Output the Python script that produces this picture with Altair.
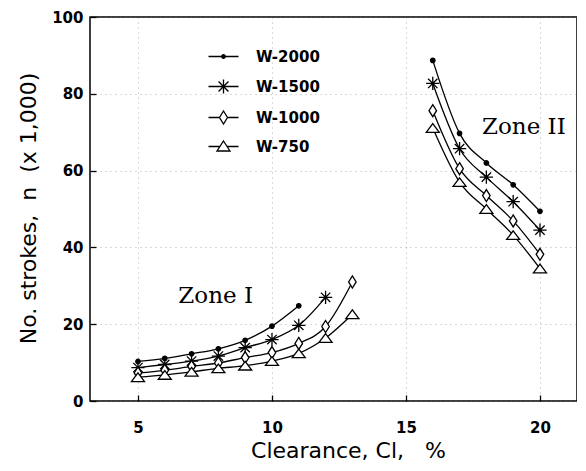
import altair as alt
import pandas as pd

# ---- data ----
series = ["W-2000", "W-1500", "W-1000", "W-750"]

clear_z1 = [5, 6, 7, 8, 9, 10, 11, 12, 13]
w2000_z1 = [10.3, 11.1, 12.3, 13.6, 15.8, 19.5, 24.8]
w1500_z1 = [8.7, 9.5, 10.4, 11.7, 13.9, 16.0, 19.7, 27.0]
w1000_z1 = [7.3, 8.0, 9.0, 9.9, 11.3, 12.6, 15.0, 19.4, 31.0]
w750_z1 = [6.2, 6.8, 7.6, 8.5, 9.2, 10.4, 12.4, 16.4, 22.6]

clear_z2 = [16, 17, 18, 19, 20]
w2000_z2 = [88.7, 69.7, 62.0, 56.3, 49.4]
w1500_z2 = [82.7, 65.7, 58.3, 51.9, 44.5]
w1000_z2 = [75.6, 60.5, 53.5, 46.9, 38.2]
w750_z2 = [71.1, 57.0, 50.0, 43.2, 34.5]

zone_labels = ["Zone I", "Zone II"]
zone_x = [7.9, 19.4]
zone_y = [27.3, 71.3]

x_ticks = [5, 10, 15, 20]
y_ticks = [0, 20, 40, 60, 80, 100]

# ---- build table ----
rows = []
z1 = {"W-2000": w2000_z1, "W-1500": w1500_z1, "W-1000": w1000_z1, "W-750": w750_z1}
z2 = {"W-2000": w2000_z2, "W-1500": w1500_z2, "W-1000": w1000_z2, "W-750": w750_z2}
for s in series:
    for c, v in zip(clear_z1, z1[s]):
        rows.append({"cl": c, "n": v, "W": s, "zone": 1, "seg": s + "-1"})
    for c, v in zip(clear_z2, z2[s]):
        rows.append({"cl": c, "n": v, "W": s, "zone": 2, "seg": s + "-2"})
df = pd.DataFrame(rows)
ann = pd.DataFrame({"label": zone_labels, "x": zone_x, "y": zone_y})

# ---- shapes ----
marker_paths = [
    "M-0.32,0A0.32,0.32 0 1,0 0.32,0A0.32,0.32 0 1,0 -0.32,0Z",
    "M-0.95,0H0.95M0,-0.95V0.95M-0.67,-0.67L0.67,0.67M-0.67,0.67L0.67,-0.67",
    "M0,-0.86L0.54,0L0,0.86L-0.54,0Z",
    "M0,-0.62L0.93,0.62L-0.93,0.62Z",
]
marker_fill = ["black", "black", "white", "white"]
legend_paths = [
    "M-3,0H3M-0.35,0A0.35,0.35 0 1,0 0.35,0A0.35,0.35 0 1,0 -0.35,0M-0.15,0A0.15,0.15 0 1,0 0.15,0A0.15,0.15 0 1,0 -0.15,0",
    "M-3,0H3M0,-1.4V1.4M-0.99,-0.99L0.99,0.99M-0.99,0.99L0.99,-0.99",
    "M-3,0H-0.8M0.8,0H3M0,-1.3L0.8,0L0,1.3L-0.8,0Z",
    "M-3,0H-0.72M0.72,0H3M0,-1.1L1.3,0.9L-1.3,0.9Z",
]

W, H = 487, 384
XDOM = [3.21, 3.21 + W / 26.8]
xscale = alt.Scale(domain=XDOM, nice=False, zero=False)
yscale = alt.Scale(domain=[0, 100], nice=False)

NB = "\u00a0"
x_title = "Clearance," + NB + "Cl," + NB * 3 + "%"
y_title = "No." + NB + "strokes," + NB * 2 + "n" + NB * 2 + "(x" + NB + "1,000)"

x_axis = alt.Axis(values=x_ticks, title=x_title, grid=True, tickSize={"expr": "-6"},
                  labelPadding=25, titlePadding=5, domain=False, titleX=258)
y_axis = alt.Axis(values=y_ticks, title=y_title, grid=True, tickSize={"expr": "-6"},
                  labelPadding=13, titlePadding=11, domain=False, titleY=191)

base = alt.Chart(df)

lines = base.mark_line(interpolate="monotone", color="black", strokeWidth=1.3).encode(
    x=alt.X("cl:Q", scale=xscale, axis=x_axis, title=x_title),
    y=alt.Y("n:Q", scale=yscale, axis=y_axis, title=y_title),
    detail="seg:N",
    order="cl:Q",
)

points = base.mark_point(stroke="black", strokeWidth=1.3, opacity=1, size=196, fillOpacity=1).encode(
    x=alt.X("cl:Q", scale=xscale, title=x_title),
    y=alt.Y("n:Q", scale=yscale, title=y_title),
    shape=alt.Shape("W:N", scale=alt.Scale(domain=series, range=marker_paths), legend=None),
    fill=alt.Fill("W:N", scale=alt.Scale(domain=series, range=marker_fill), legend=None),
)

legend_layer = base.transform_filter("datum.cl == 5").transform_calculate(
    xo="datum.cl - 100"
).mark_point(stroke="black", strokeWidth=1.3, opacity=1, filled=False, clip=True).encode(
    x=alt.X("xo:Q", scale=xscale, title=x_title),
    y=alt.Y("n:Q", scale=yscale, title=y_title),
    shape=alt.Shape(
        "W:N",
        scale=alt.Scale(domain=series, range=legend_paths),
        legend=alt.Legend(
            title=None, orient="none", legendX=126, legendY=32,
            labelFont="DejaVu Sans", labelFontWeight="bold", labelFontSize=15,
            labelColor="black", labelOffset=25, rowPadding=11,
            symbolSize=100, symbolStrokeWidth=1.3, symbolStrokeColor="black",
            symbolFillColor="transparent",
        ),
    ),
)

texts = alt.Chart(ann).mark_text(font="DejaVu Serif", fontSize=23, color="black").encode(
    x=alt.X("x:Q", scale=xscale, title=x_title),
    y=alt.Y("y:Q", scale=yscale, title=y_title),
    text="label:N",
)

chart = alt.layer(lines, points, legend_layer, texts).resolve_scale(
    shape="independent"
).properties(
    width=W, height=H,
    padding={"left": 9, "top": 2, "right": 0, "bottom": 0},
).configure_view(
    stroke="black", strokeWidth=1.5
).configure_axis(
    labelFont="DejaVu Sans", labelFontWeight="bold", labelFontSize=15, labelColor="black",
    titleFont="DejaVu Sans", titleFontWeight="normal", titleFontSize=22, titleColor="black",
    tickColor="black", tickWidth=1.3,
    gridColor="#777", gridDash=[1, 4], gridWidth=0.8, gridOpacity=0.7,
)

chart.save("out.html", embed_options={"renderer": "svg", "actions": False})
